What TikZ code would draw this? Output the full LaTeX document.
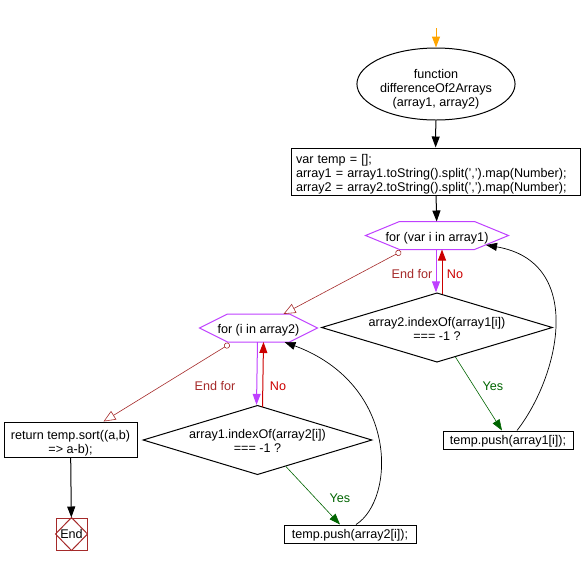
\documentclass[tikz,border=0pt]{standalone}
\usepackage{fontspec}
\setmainfont{Liberation Sans}
\usetikzlibrary{arrows.meta,positioning,shapes.geometric,calc}
\definecolor{forpurple}{RGB}{191,64,255}
\definecolor{endred}{RGB}{165,42,42}
\definecolor{nored}{RGB}{204,0,0}
\definecolor{yesgreen}{RGB}{0,100,0}
\definecolor{startorange}{RGB}{255,165,0}
% text lowered a little inside its node, node size unchanged
\newcommand{\lowc}[2][3pt]{\raisebox{-#1}[\height][\depth]{\begin{tabular}{@{}c@{}}#2\end{tabular}}}
\newcommand{\lowl}[2][3pt]{\raisebox{-#1}[\height][\depth]{\begin{tabular}{@{}l@{}}#2\end{tabular}}}

\begin{document}
\begin{tikzpicture}[x=1pt,y=-1pt,line width=1pt,font=\fontsize{12.6}{14}\selectfont,
  box/.style={draw,rectangle,inner sep=0pt},
  hexa/.style={rectangle,minimum height=27pt,inner sep=0pt},
  cond/.style={draw,diamond,aspect=3.3,inner sep=0pt},
  >={Triangle[length=11pt,width=8pt]}]
\useasboundingbox (0,0) rectangle (584,566);
\coordinate (S) at (436,28);
\node[draw,ellipse,minimum width=143pt,minimum height=72pt,inner sep=0pt] (A) at (436,84)
  {\lowc[6pt]{function\\differenceOf2Arrays\\(array1, array2)}};
\node[box,minimum height=47pt,inner xsep=5pt,text width=279pt,align=left] (B) at (435.5,171.5)
  {\lowl{var temp = [];\\array1 = array1.toString().split(',').map(Number);\\array2 = array2.toString().split(',').map(Number);}};
\node[hexa,minimum width=142pt] (C) at (437,235.5) {\lowc{for (var i in array1)}};
\node[cond,minimum width=231pt,minimum height=69pt] (D) at (437,327.5) {\lowc{array2.indexOf(array1[i])\\=== -1 ?}};
\node[box,minimum width=130pt,minimum height=18pt] (E) at (508,440) {\lowc[2pt]{temp.push(array1[i]);}};
\node[hexa,minimum width=117pt] (F) at (258.5,328) {\lowc{for (i in array2)}};
\node[cond,minimum width=229pt,minimum height=68pt] (G) at (257.5,440) {\lowc{array1.indexOf(array2[i])\\=== -1 ?}};
\node[box,minimum width=132pt,minimum height=18pt] (H) at (350,534) {\lowc[2pt]{temp.push(array2[i]);}};
\node[box,minimum width=133pt,minimum height=35pt] (I) at (70.5,439.5) {\lowc[4pt]{return temp.sort((a,b)\\=> a-b);}};
\node[draw=endred,rectangle,minimum width=31pt,minimum height=32pt,inner sep=0pt] (J) at (71.5,534) {\lowc[2pt]{End}};
\draw[endred] (J.north) -- (J.east) -- (J.south) -- (J.west) -- cycle;
% hexagon outlines
\foreach \n/\d in {C/34,F/28}
  \draw[forpurple] (\n.west) -- ([xshift=\d pt]\n.north west) -- ([xshift=-\d pt]\n.north east) -- (\n.east)
    -- ([xshift=-\d pt]\n.south east) -- ([xshift=\d pt]\n.south west) -- cycle;
% labels
\node[endred] at (412,274) {End for};
\node[nored] at (455,274) {No};
\node[yesgreen] at (493,386) {Yes};
\node[endred] at (215,386) {End for};
\node[nored] at (278,386) {No};
\node[yesgreen] at (340,498) {Yes};
% connectors
\draw[->,startorange] (S) -- (A.north);
\path[->]
(A) edge (B)
(B) edge (C)
(I) edge (J);
\draw[->,forpurple] ([xshift=-1pt]C.south) -- ([xshift=-1pt]D.north);
\draw[->,nored] ([xshift=5pt,yshift=-2pt]D.north) -- ([xshift=5pt]C.south);
\draw[->,forpurple] ([xshift=-1pt]F.south) -- ([xshift=-1pt]G.north);
\draw[->,nored] ([xshift=5pt,yshift=-2pt]G.north) -- ([xshift=5pt]F.south);
\draw[endred,line width=0.6pt,{Circle[open,length=6pt]}-{Triangle[open,length=12pt,width=10pt]}]
  ([xshift=-36pt,yshift=-2pt]C.south) -- ([xshift=25pt]F.north);
\draw[endred,line width=0.6pt,{Circle[open,length=6pt]}-{Triangle[open,length=12pt,width=10pt]}]
  ([xshift=-29pt,yshift=-2pt]F.south) -- ([xshift=33pt]I.north);
\draw[->,yesgreen,line width=0.6pt] (D.-58) -- ([xshift=-6pt]E.north);
\draw[->,yesgreen,line width=0.6pt] (G.-43) -- ([xshift=-10pt]H.north);
\draw[->,line width=0.7pt] ([xshift=9pt]E.north) .. controls (560,375) and (585,262) .. ([xshift=49pt,yshift=-9.5pt]C.center);
\draw[->,line width=0.7pt] ([xshift=6pt]H.north) .. controls (395,500) and (400,385) .. ([xshift=26pt]F.south);
\end{tikzpicture}
\end{document}
